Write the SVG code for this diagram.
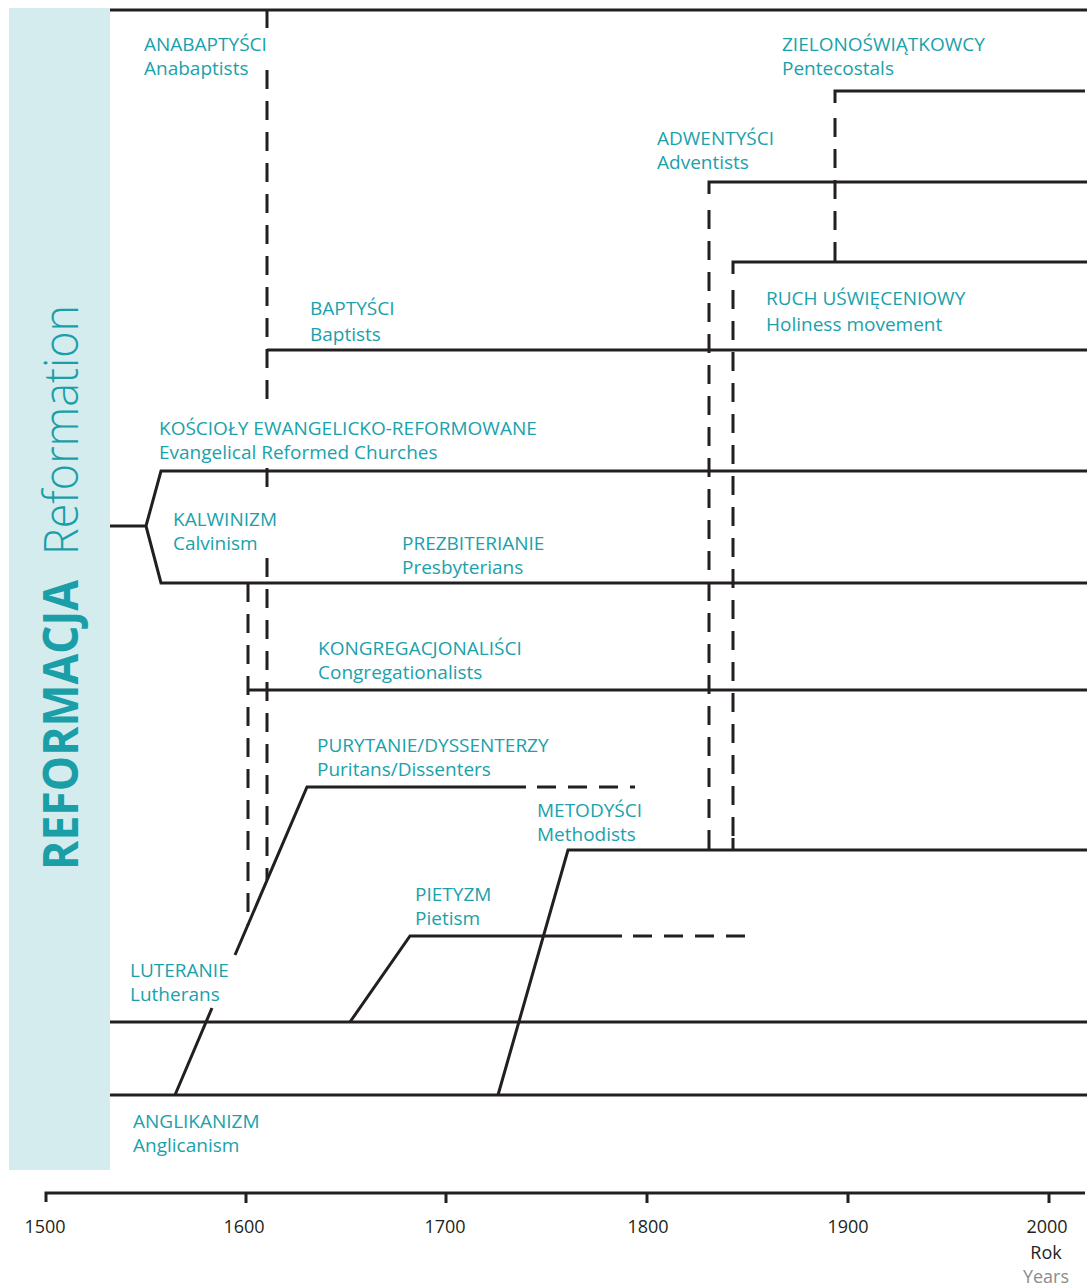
<svg xmlns="http://www.w3.org/2000/svg" width="1087" height="1287" viewBox="0 0 1087 1287">
<style>
.ln{fill:none;stroke:#231f20;stroke-width:3}
.ds{fill:none;stroke:#231f20;stroke-width:3;stroke-dasharray:19 12}
.lb{font-family:"Open Sans","Liberation Sans",sans-serif;font-size:19px;fill:#1aa1ab}
.ax{font-family:"Open Sans","Liberation Sans",sans-serif;font-size:18px;fill:#231f20;text-anchor:middle}
</style>
<rect width="1087" height="1287" fill="#fff"/>
<g id="band">
<rect x="9" y="8" width="101" height="1162" fill="#d5ecef"/>
<text transform="translate(78,870) rotate(-90)" font-family="Open Sans, Liberation Sans, sans-serif" font-weight="bold" font-size="48" fill="#1a9ea8" textLength="290" lengthAdjust="spacingAndGlyphs">REFORMACJA</text>
<text transform="translate(78,555) rotate(-90)" font-family="Open Sans, Liberation Sans, sans-serif" font-weight="300" font-size="48" fill="#1a9ea8" textLength="250" lengthAdjust="spacingAndGlyphs">Reformation</text>
</g>
<g id="connectors">
<path class="ln" d="M110 10H1087"/>
<path class="ln" d="M110 526H146L161 471H1087M146 526L161 583H1087"/>
<path class="ln" d="M110 1022H1087M110 1095H1087"/>
<path class="ln" d="M175 1095L212 1008M235 955L307 787H526"/>
<path class="ds" d="M537 787H635"/>
<path class="ln" d="M498 1095L568 850H1087"/>
<path class="ln" d="M350 1022L410 936H622"/>
<path class="ds" d="M633 936H745"/>
<path class="ln" d="M267 350H1087"/>
<path class="ln" d="M248 690H1087"/>
<path class="ln" d="M709 850V840M709 194V182H1087"/>
<path class="ds" d="M709 210V840"/>
<path class="ln" d="M733 850V838M733 274V262H1087"/>
<path class="ds" d="M733 290V838"/>
<path class="ln" d="M835 262V250M835 103V91H1085"/>
<path class="ds" d="M835 118V250"/>
<path class="ln" d="M267 10V28"/>
<path class="ds" d="M267 70V406M267 468V487M267 558V880"/>
<path class="ds" d="M248 583V925"/>
</g>
<g id="axis">
<path class="ln" d="M46 1202V1193H1085M246 1193V1203M446 1193V1203M647 1193V1203M848 1193V1203M1049 1193V1203"/>
<text class="ax" x="45" y="1233">1500</text>
<text class="ax" x="244" y="1233">1600</text>
<text class="ax" x="445" y="1233">1700</text>
<text class="ax" x="648" y="1233">1800</text>
<text class="ax" x="848" y="1233">1900</text>
<text class="ax" x="1047" y="1233">2000</text>
<text class="ax" x="1046" y="1259">Rok</text>
<text class="ax" x="1046" y="1283" style="fill:#8c8c8c">Years</text>
</g>
<g id="anabaptists"><text class="lb" x="144" y="51">ANABAPTYŚCI</text><text class="lb" x="144" y="75">Anabaptists</text></g>
<g id="pentecostals"><text class="lb" x="782" y="51">ZIELONOŚWIĄTKOWCY</text><text class="lb" x="782" y="75">Pentecostals</text></g>
<g id="adventists"><text class="lb" x="657" y="145">ADWENTYŚCI</text><text class="lb" x="657" y="169">Adventists</text></g>
<g id="holiness"><text class="lb" x="766" y="305">RUCH UŚWIĘCENIOWY</text><text class="lb" x="766" y="331">Holiness movement</text></g>
<g id="baptists"><text class="lb" x="310" y="315">BAPTYŚCI</text><text class="lb" x="310" y="341">Baptists</text></g>
<g id="reformed"><text class="lb" x="159" y="435">KOŚCIOŁY EWANGELICKO-REFORMOWANE</text><text class="lb" x="159" y="459">Evangelical Reformed Churches</text></g>
<g id="calvinism"><text class="lb" x="173" y="526">KALWINIZM</text><text class="lb" x="173" y="550">Calvinism</text></g>
<g id="presbyterians"><text class="lb" x="402" y="550">PREZBITERIANIE</text><text class="lb" x="402" y="574">Presbyterians</text></g>
<g id="congregationalists"><text class="lb" x="318" y="655">KONGREGACJONALIŚCI</text><text class="lb" x="318" y="679">Congregationalists</text></g>
<g id="puritans"><text class="lb" x="317" y="752">PURYTANIE/DYSSENTERZY</text><text class="lb" x="317" y="776">Puritans/Dissenters</text></g>
<g id="methodists"><text class="lb" x="537" y="817">METODYŚCI</text><text class="lb" x="537" y="841">Methodists</text></g>
<g id="pietism"><text class="lb" x="415" y="901">PIETYZM</text><text class="lb" x="415" y="925">Pietism</text></g>
<g id="lutherans"><text class="lb" x="130" y="977">LUTERANIE</text><text class="lb" x="130" y="1001">Lutherans</text></g>
<g id="anglicanism"><text class="lb" x="133" y="1128">ANGLIKANIZM</text><text class="lb" x="133" y="1152">Anglicanism</text></g>
</svg>
